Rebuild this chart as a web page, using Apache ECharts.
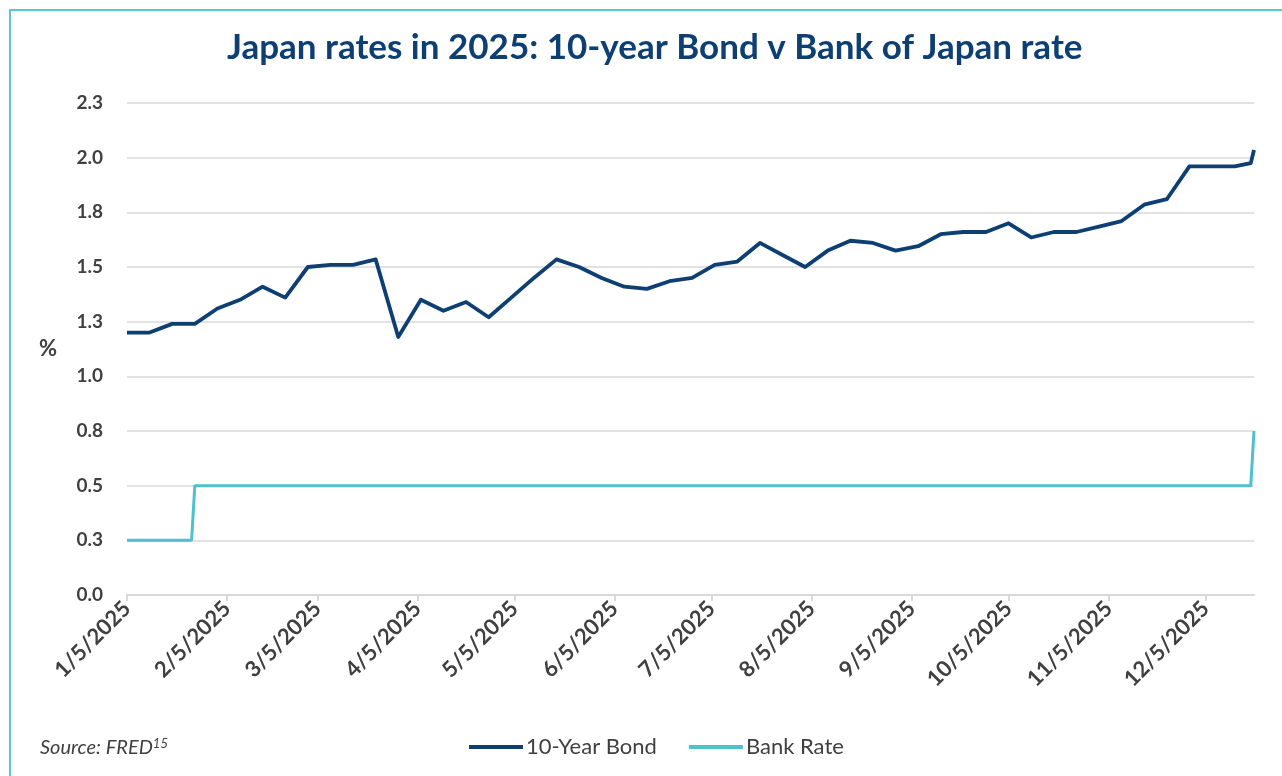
<!DOCTYPE html>
<html>
<head>
<meta charset="utf-8">
<script src="https://cdn.jsdelivr.net/npm/echarts@6/dist/echarts.min.js"></script>
<style>
html,body{margin:0;padding:0;background:#fff;}
#chart{width:1282px;height:776px;}
</style>
</head>
<body>
<div id="chart"></div>
<script>
const titleText = 'Japan rates in 2025: 10-year Bond v Bank of Japan rate';
const seriesNames = ['10-Year Bond', 'Bank Rate'];

const bondDates = [
  '2025-01-05','2025-01-12','2025-01-19','2025-01-26',
  '2025-02-02','2025-02-09','2025-02-16','2025-02-23',
  '2025-03-02','2025-03-09','2025-03-16','2025-03-23','2025-03-30',
  '2025-04-06','2025-04-13','2025-04-20','2025-04-27',
  '2025-05-04','2025-05-11','2025-05-18','2025-05-25',
  '2025-06-01','2025-06-08','2025-06-15','2025-06-22','2025-06-29',
  '2025-07-06','2025-07-13','2025-07-20','2025-07-27',
  '2025-08-03','2025-08-10','2025-08-17','2025-08-24','2025-08-31',
  '2025-09-07','2025-09-14','2025-09-21','2025-09-28',
  '2025-10-05','2025-10-12','2025-10-19','2025-10-26',
  '2025-11-02','2025-11-09','2025-11-16','2025-11-23','2025-11-30',
  '2025-12-07','2025-12-14','2025-12-19','2025-12-20'
];
const bondValues = [
  1.20, 1.20, 1.24, 1.24,
  1.31, 1.35, 1.41, 1.36,
  1.50, 1.51, 1.51, 1.535, 1.18,
  1.35, 1.30, 1.34, 1.27,
  1.36, 1.45, 1.535, 1.50,
  1.45, 1.41, 1.40, 1.435, 1.45,
  1.51, 1.525, 1.61, 1.555,
  1.50, 1.575, 1.62, 1.61, 1.575,
  1.595, 1.65, 1.66, 1.66,
  1.70, 1.635, 1.66, 1.66,
  1.685, 1.71, 1.785, 1.81, 1.96,
  1.96, 1.96, 1.975, 2.035
];

const bankDates = ['2025-01-05','2025-01-25','2025-01-26','2025-12-19','2025-12-20'];
const bankValues = [0.25, 0.25, 0.50, 0.50, 0.75];

const xMin = '2025-01-05';
const xMax = '2025-12-20';
const tickDates = [
  '2025-01-05','2025-02-05','2025-03-05','2025-04-05','2025-05-05','2025-06-05',
  '2025-07-05','2025-08-05','2025-09-05','2025-10-05','2025-11-05','2025-12-05'
];
const yMin = 0, yMax = 2.25, yStep = 0.25;

function ts(s) {
  const p = s.split('-').map(Number);
  return new Date(p[0], p[1] - 1, p[2]).getTime();
}
const tickValues = tickDates.map(ts);
const FONT = 'Lato';
const TXT = '#404040';

const chart = echarts.init(document.getElementById('chart'));
chart.setOption({
  animation: false,
  backgroundColor: '#ffffff',
  title: {
    text: titleText,
    left: 222,
    top: 25,
    textStyle: { fontFamily: FONT, fontSize: 35, fontWeight: 'bold', color: '#0d3f73' }
  },
  graphic: [
    { type: 'rect', shape: { x: 10, y: 10, width: 1400, height: 900 },
      style: { fill: 'none', stroke: '#5cc6d6', lineWidth: 2 }, silent: true, z: -1 },
    { type: 'text', left: 40, top: 737,
      style: {
        text: '{s|Source: FRED}{sup|15}',
        rich: {
          s: { fontFamily: FONT, fontSize: 20, fontStyle: 'italic', fill: TXT },
          sup: { fontFamily: FONT, fontSize: 13, fontStyle: 'italic', fill: TXT, verticalAlign: 'top', padding: [0,0,9,0] }
        }
      } }
  ],
  legend: {
    bottom: 13,
    left: 464,
    itemWidth: 54,
    itemHeight: 4,
    itemGap: 32,
    icon: 'rect',
    textStyle: { fontFamily: FONT, fontSize: 22, color: TXT, padding: [0, 0, 0, -2] },
    data: seriesNames
  },
  grid: { left: 127, right: 28, top: 103, bottom: 181, containLabel: false },
  xAxis: {
    type: 'value',
    min: ts(xMin),
    max: ts(xMax),
    axisLine: { show: true, lineStyle: { color: '#d9d9d9', width: 2 } },
    axisTick: { show: true, customValues: tickValues, length: 6, lineStyle: { color: '#d9d9d9', width: 2 } },
    splitLine: { show: false },
    axisLabel: {
      customValues: tickValues,
      rotate: 45,
      margin: 10,
      fontFamily: FONT, fontSize: 22, fontWeight: 'bold', color: TXT,
      formatter: function (v) {
        const d = new Date(v);
        return (d.getMonth() + 1) + '/' + d.getDate() + '/' + d.getFullYear();
      }
    }
  },
  yAxis: {
    type: 'value',
    min: yMin, max: yMax, interval: yStep,
    name: '%',
    nameLocation: 'middle',
    nameRotate: 0,
    nameGap: 70,
    nameTextStyle: { fontFamily: FONT, fontSize: 22, fontWeight: 'bold', color: TXT },
    axisLine: { show: false },
    axisTick: { show: false },
    splitLine: { lineStyle: { color: '#d9d9d9', width: 1.5 } },
    axisLabel: {
      margin: 24,
      fontFamily: FONT, fontSize: 19, fontWeight: 'bold', color: TXT,
      formatter: v => v.toFixed(1)
    }
  },
  series: [
    {
      name: seriesNames[0], type: 'line', showSymbol: false, symbol: 'none',
      color: '#0d3f73',
      lineStyle: { width: 3.8, color: '#0d3f73', join: 'round' },
      data: bondDates.map((d, i) => [ts(d), bondValues[i]])
    },
    {
      name: seriesNames[1], type: 'line', showSymbol: false, symbol: 'none',
      color: '#4fc0d0',
      lineStyle: { width: 3, color: '#4fc0d0' },
      data: bankDates.map((d, i) => [ts(d), bankValues[i]])
    }
  ]
});
</script>
</body>
</html>
